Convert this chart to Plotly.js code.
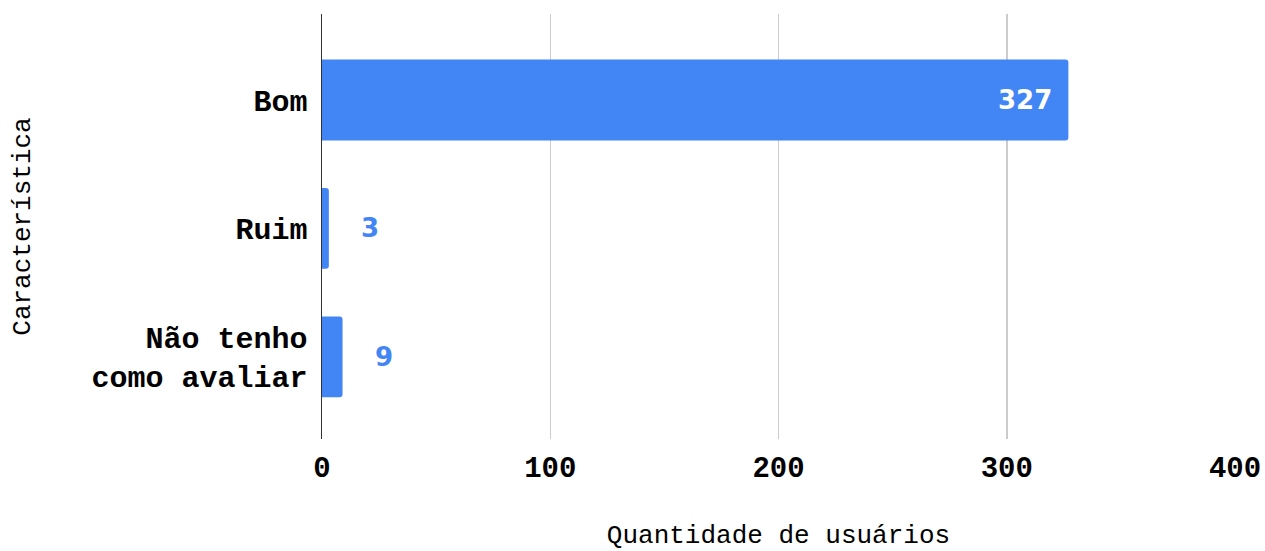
<!DOCTYPE html>
<html>
<head>
<meta charset="utf-8">
<script src="https://cdn.plot.ly/plotly-3.0.1.min.js"></script>
<style>html,body{margin:0;padding:0;background:#fff;}#chart{width:1265px;height:551px;}</style>
</head>
<body>
<div id="chart"></div>
<script>
const categories = ["Bom", "Ruim", "Não tenho<br>como avaliar"];
const values = [327, 3, 9];
const xTicks = [0, 100, 200, 300, 400];
const xTitle = "Quantidade de usuários";
const yTitle = "Característica";

const barColor = "#4285F4";
const monoFont = "'Liberation Mono', 'Courier New', monospace";

const annotations = categories.map((c, i) => {
  const inside = values[i] > 50;
  return {
    x: values[i], y: c, xref: "x", yref: "y",
    text: String(values[i]), showarrow: false,
    xanchor: inside ? "right" : "left",
    xshift: inside ? -14 : 30,
    yanchor: "middle",
    font: {family: "'DejaVu Sans', Verdana, sans-serif", size: 26, weight: "bold", color: inside ? "#ffffff" : barColor}
  };
});

const trace = {
  type: "bar", orientation: "h",
  x: values, y: categories,
  width: 0.63,
  marker: {color: barColor, cornerradius: 3},
  hoverinfo: "skip"
};

const layout = {
  width: 1265, height: 551,
  margin: {l: 322, r: 30, t: 14, b: 112},
  paper_bgcolor: "#fff", plot_bgcolor: "#fff",
  showlegend: false,
  xaxis: {
    range: [0, 400], tickvals: xTicks, ticktext: xTicks.map(String),
    showgrid: true, gridcolor: "#cccccc", gridwidth: 1.5,
    zeroline: false, showline: false, ticks: "",
    ticklabelstandoff: 8,
    tickfont: {family: monoFont, size: 29, weight: "bold", color: "#000"},
    title: {text: xTitle, standoff: 60, font: {family: monoFont, size: 26, color: "#000"}},
    fixedrange: true
  },
  yaxis: {
    type: "category", categoryorder: "array", categoryarray: categories,
    range: [2.64, -0.67],
    showgrid: false, zeroline: false,
    showline: true, linecolor: "#333333", linewidth: 1.5,
    ticks: "", ticklabelstandoff: 7,
    tickfont: {family: monoFont, size: 30, weight: "bold", color: "#000"},
    title: {text: yTitle, standoff: 53, font: {family: monoFont, size: 26, color: "#000"}},
    fixedrange: true
  },
  annotations: annotations
};

Plotly.newPlot("chart", [trace], layout, {displayModeBar: false, staticPlot: true});
</script>
</body>
</html>
